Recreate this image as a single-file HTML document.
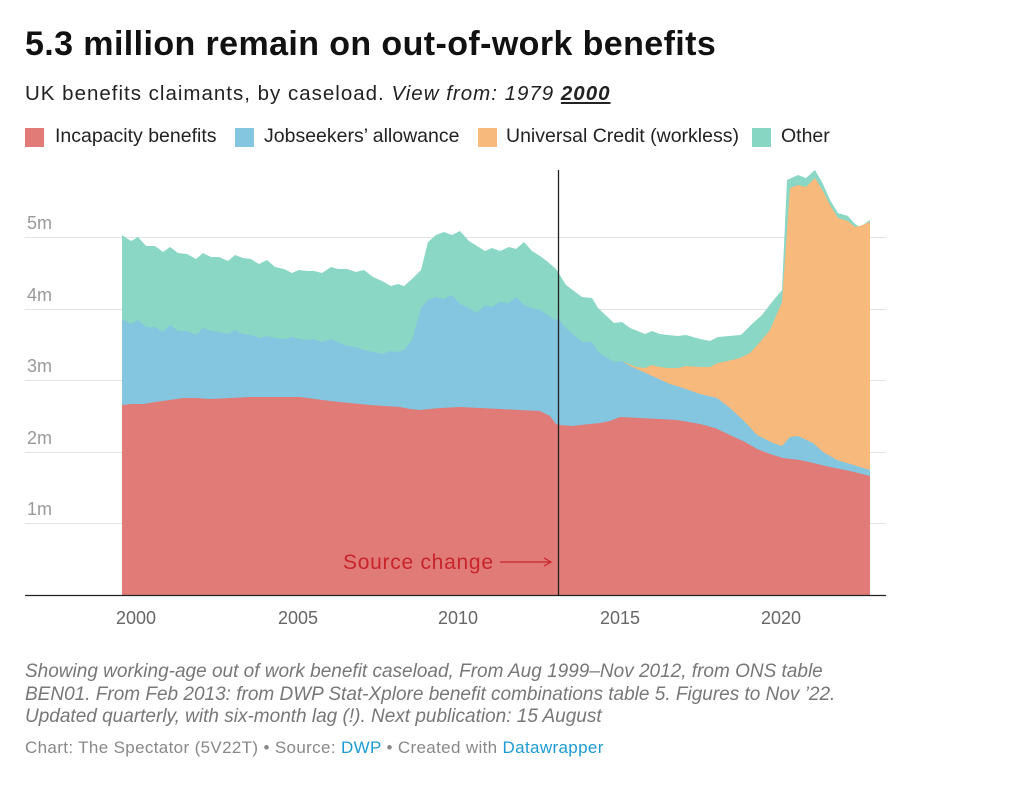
<!DOCTYPE html>
<html><head><meta charset="utf-8"><style>
body{margin:0;background:#fff;font-family:"Liberation Sans",sans-serif;}
.a{position:absolute;white-space:nowrap;}
.sq{position:absolute;top:128px;width:19px;height:19px}
.lt{position:absolute;top:125px;font-size:19.5px;color:#222;white-space:nowrap}
</style></head><body>
<div style="position:relative;width:1023px;height:795px;overflow:hidden">
<div class="a" style="left:25px;top:25px;font-size:34px;font-weight:bold;color:#111;letter-spacing:0.4px">5.3 million remain on out-of-work benefits</div>
<div class="a" style="left:25px;top:82px;font-size:20.5px;color:#222;letter-spacing:1px">UK benefits claimants, by caseload. <i>View from: 1979 <b style="text-decoration:underline">2000</b></i></div>
<div class="sq" style="left:25px;background:#e07b77"></div><div class="lt" style="left:55px">Incapacity benefits</div>
<div class="sq" style="left:235px;background:#84c5e0"></div><div class="lt" style="left:264px">Jobseekers’ allowance</div>
<div class="sq" style="left:478px;background:#f8b97c"></div><div class="lt" style="left:506px">Universal Credit (workless)</div>
<div class="sq" style="left:752px;background:#86d6c3"></div><div class="lt" style="left:781px">Other</div>
<svg class="a" style="left:0;top:0" width="1023" height="795">
<g stroke="#e3e3e3" stroke-width="1">
<line x1="25" x2="886" y1="237.5" y2="237.5"/><line x1="25" x2="886" y1="309.5" y2="309.5"/><line x1="25" x2="886" y1="380.5" y2="380.5"/><line x1="25" x2="886" y1="452.5" y2="452.5"/><line x1="25" x2="886" y1="523.5" y2="523.5"/></g>
<g font-size="18" fill="#999" font-family="Liberation Sans, sans-serif">
<text x="27" y="229">5m</text><text x="27" y="301">4m</text><text x="27" y="372">3m</text><text x="27" y="444">2m</text><text x="27" y="515">1m</text></g>
<polygon fill="#86d6c3" opacity="0.97" points="122,595 122,235 131,241 138,237 146,246 155,246 163,252 170,247 178,253 187,254 196,259 203,253 211,257 219,257 228,261 235,255 243,258 251,259 259,264 267,260 275,267 284,269 292,273 299,270 307,271 314,271 322,273 331,267 338,269 347,269 356,272 364,270 373,277 382,281 391,286 398,284 404,286 412,279 421,270 428,242 436,235 444,232 452,235 460,231 469,241 477,246 485,251 492,248 500,251 509,247 516,249 524,242 532,251 540,256 548,262 556,269 558,272 566,285 582,297 592,298 598,308 614,323 622,322 630,328 645,334 652,331 660,334 668,335 678,336 686,335 700,339 710,341 718,337 740,335 742,334 752,324 762,315 772,302 782,290 787,180 798,175 806,178 815,170 823,184 830,200 838,213 848,216 855,224 860,227 870,220 870,595"/>
<polygon fill="#f8b97c" points="622,595 622,361 636,367 645,368 652,365 660,367 668,368 678,368 686,366 700,367 710,367 718,363 728,361 740,358 750,353 760,342 770,330 782,302 790,188 798,185 806,187 815,178 823,191 830,205 838,218 848,221 855,227 860,226 870,222 870,595"/>
<polygon fill="#84c5e0" points="122,595 122,319 131,324 138,320 146,327 155,327 163,332 170,325 178,331 187,331 196,335 203,328 211,331 219,332 228,334 235,330 243,334 251,335 259,338 267,336 275,338 284,339 292,337 299,339 307,340 314,339 322,342 331,339 338,342 347,346 356,347 364,350 373,352 382,354 391,351 398,352 404,350 412,340 421,308 428,300 436,297 444,299 452,295 460,304 469,308 477,313 485,305 492,307 500,302 509,303 516,297 524,305 532,308 540,310 548,315 556,321 558,318 566,328 582,342 592,342 598,352 614,362 622,361 630,366 650,375 670,384 683,388 700,394 717,398 730,408 745,422 757,435 773,443 782,446 790,437 798,436 813,443 823,452 837,460 870,470 870,595"/>
<polygon fill="#e07b77" points="122,595 122,405 131,404 144,404 155,402 170,400 183,398 196,398 210,399 230,398 250,397 280,397 300,397 315,399 330,401 350,403 370,405 385,406 400,407 410,409 420,410 440,408 460,407 480,408 500,409 520,410 540,411 550,416 556,424 560,425 572,426 590,424 600,423 610,421 620,417 640,418 660,419 677,420 700,424 715,428 730,435 745,442 757,449 770,454 783,458 800,460 813,463 830,467 850,471 870,476 870,595"/>
<line x1="558.5" x2="558.5" y1="170" y2="595" stroke="#222" stroke-width="1.3"/>
<line x1="25" x2="886" y1="595.5" y2="595.5" stroke="#222" stroke-width="1.3"/>
<text x="343" y="569" font-size="21" fill="#c8242b" font-family="Liberation Sans, sans-serif" textLength="150">Source change</text>
<line x1="500" x2="550" y1="562" y2="562" stroke="#c8242b" stroke-width="1.2"/>
<path d="M544,558 L551,562 L544,566" fill="none" stroke="#c8242b" stroke-width="1.2"/>
<g font-size="18" fill="#666" text-anchor="middle" font-family="Liberation Sans, sans-serif">
<text x="136" y="624">2000</text><text x="298" y="624">2005</text><text x="458" y="624">2010</text><text x="620" y="624">2015</text><text x="781" y="624">2020</text></g>
</svg>
<div class="a" style="left:25px;top:661px;font-size:19px;line-height:22.5px;color:#777;font-style:italic">Showing working-age out of work benefit caseload, From Aug 1999–Nov 2012, from ONS table<br>BEN01. From Feb 2013: from DWP Stat-Xplore benefit combinations table 5. Figures to Nov ’22.<br>Updated quarterly, with six-month lag (!). Next publication: 15 August</div>
<div class="a" style="left:25px;top:738px;font-size:17px;color:#888;letter-spacing:0.35px">Chart: The Spectator (5V22T) • Source: <span style="color:#1d9bd1">DWP</span> • Created with <span style="color:#1d9bd1">Datawrapper</span></div>
</div>
</body></html>
